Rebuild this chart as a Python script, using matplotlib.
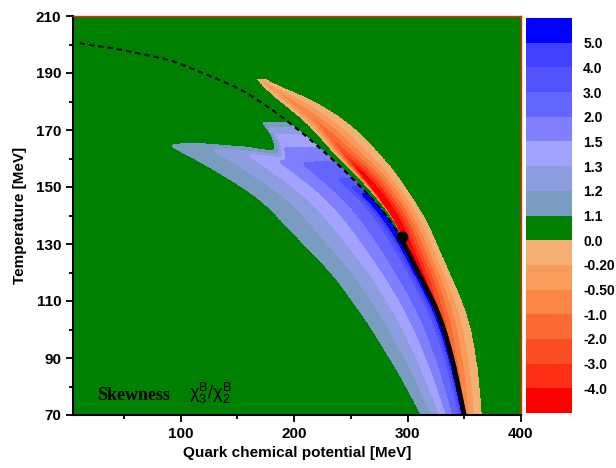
import numpy as np
import matplotlib
matplotlib.use("Agg")
import matplotlib.pyplot as plt

plt.rcParams['font.family'] = ['Liberation Sans', 'DejaVu Sans']
plt.rcParams['mathtext.fontset'] = 'custom'
plt.rcParams['mathtext.rm'] = 'Liberation Sans'
plt.rcParams['mathtext.it'] = 'Liberation Sans:italic'

# phase line (crossover up to the CEP, then first order)
line_mu = [11, 42, 92, 152, 181, 211, 240, 269, 281, 295, 308, 328, 343, 350]
line_T = [200.4, 198.6, 194.5, 184.6, 177.1, 167.8, 157.5, 146, 140.3, 132.4, 120.7, 106.6, 86.6, 70]
cep_mu, cep_T = 295, 132.4

# positive (blue) region: outer edge, and where each level sits as a fraction of the width
blue_out_mu = [312, 293, 264, 234, 207, 170, 126, 88, 72]
blue_out_T = [70, 84.3, 103, 119.5, 130.5, 146, 157, 164.9, 168]
blue_frac = [1.0, 0.76, 0.57, 0.41, 0.26, 0.12, 0.08, 0.05]
# top edge of the two blue lobes vs distance from the line
top_u = [0, 18, 22, 28, 35, 43, 52, 67, 100, 140]
top_T = [195, 185, 173, 169, 165.5, 162.5, 163.2, 164.2, 165.3, 165.6]
# cut-off of the blue next to the line above the CEP
cap_T = [145, 147.6, 152, 156, 160, 165, 169, 171, 172.5, 180]
cap_r = [0, 0.05, 0.1, 0.17, 0.3, 0.45, 0.56, 0.75, 1.0, 2.0]

# negative (red) band: inner and outer edges, depth (in level steps) and ridge position
red_in_mu = [350, 343, 328, 308, 295, 284, 263.6, 234.2, 210.7, 181.3, 163.2]
red_in_T = [70, 86.6, 106.6, 120.7, 132.4, 140, 150, 161.7, 172.3, 181.6, 188.1]
red_out_mu = [366, 363, 357, 349, 337, 316.5, 289, 254.8, 210.7, 163.2]
red_out_T = [70, 85, 100, 110, 120.7, 139.4, 156, 171.1, 182.8, 188.1]
red_depth_T = [70, 90, 110, 117, 132, 145, 155, 160, 165, 172, 182, 188.1]
red_depth = [3, 3.8, 5.5, 7.5, 8.5, 8.5, 7.5, 5.5, 4.4, 3.4, 2.3, 1.2]
ridge_T = [70, 132.4, 150, 172, 188.1]
ridge_s = [0, 0, 0.15, 0.3, 0.4]

levels = [-4.0, -3.0, -2.0, -1.0, -0.5, -0.2, 0.0, 1.1, 1.2, 1.3, 1.5, 2.0, 3.0, 4.0, 5.0]
tick_labels = ['-4.0', '-3.0', '-2.0', '-1.0', '-0.50', '-0.20', '0.0',
               '1.1', '1.2', '1.3', '1.5', '2.0', '3.0', '4.0', '5.0']
colors = ['#ff0000', '#fd2e16', '#fc4c24', '#fb6a34', '#fa8544', '#f89c5c', '#f4b074',
          '#008000', '#7a9cc0', '#8d9ee0', '#a3a3ff', '#7f7fff', '#6464ff', '#5252ff',
          '#4040ff', '#0000ff']


def smooth(y, n):
    # gaussian moving average, rounds off the corners of the read-off polylines
    k = np.exp(-0.5 * (np.arange(-3 * n, 3 * n + 1) / n) ** 2)
    k /= k.sum()
    yp = np.pad(y, 3 * n, mode='reflect', reflect_type='odd')
    return np.convolve(yp, k, mode='valid')


# phase line as T(mu), smoothed, then inverted to mu(T)
mg = np.linspace(11, 350, 3000)
T_line = smooth(np.interp(mg, line_mu, line_T), 70)

# build the field on a grid
mu = np.linspace(5, 400, 1200)
T = np.linspace(70, 210, 900)
M, TT = np.meshgrid(mu, T)

mu_line = np.interp(T, T_line[::-1], mg[::-1])[:, None]
u = mu_line - M
out_1d = smooth(np.interp(T, blue_out_T, blue_out_mu), 20)
W = np.maximum(mu_line - out_1d[:, None], 1)
r = np.clip(u / W, 0, None)
ug = np.linspace(-60, 420, 2400)
top_1d = smooth(np.interp(ug, top_u, top_T), 15)
r_t = np.clip(1 - (np.interp(u, ug, top_1d) - TT) / 6.0, 0, None)
r_c = smooth(np.interp(T, cap_T, cap_r), 8)[:, None]
r_eff = (r**10 + r_t**10 + r_c**10) ** 0.1
fr = [0] + blue_frac[::-1] + [1.05]
blue_vals = [6] + levels[7:][::-1] + [0.5]
blue = np.interp(r_eff, fr, blue_vals)

mu_in = smooth(np.interp(T, red_in_T, red_in_mu), 18)[:, None]
mu_in = np.maximum(mu_in, mu_line)
mu_out = smooth(np.interp(T, red_out_T, red_out_mu), 24)[:, None]
s = (M - mu_in) / np.maximum(mu_out - mu_in, 0.01)
s0 = smooth(np.interp(T, ridge_T, ridge_s), 14)[:, None]
depth = smooth(np.interp(T, red_depth_T, red_depth), 14)[:, None]
inside = (s > 0) & (s < 1) & (TT < 188.1)
q = np.where(s < s0, s / np.maximum(s0, 1e-6), np.clip((1 - s) / (1 - s0), 0, None) ** 1.3)
red_vals = levels[:7][::-1] + [-5.0]
red = np.interp(depth * q, np.arange(8), red_vals)

Z = np.full(M.shape, 0.5)
Z[u > 0] = blue[u > 0]
Z[inside] = red[inside]

fig = plt.figure(figsize=(6.16, 4.68), dpi=100)
ax = fig.add_axes([73 / 616, 53 / 468, 448 / 616, 399 / 468])
cs = ax.contourf(M, TT, Z, levels=[-6] + levels + [7], colors=colors)

upper = T_line >= cep_T
lower = T_line <= cep_T
ax.plot(mg[upper], T_line[upper], color='k', ls='--', lw=1.5, dashes=(2.5, 2))
ax.plot(mg[lower], T_line[lower], color='k', lw=3.3, solid_capstyle='butt')
ax.plot(cep_mu, cep_T, 'o', color='k', ms=7.5)

ax.text(26, 77, 'Skewness', family='Liberation Serif', fontweight='bold',
        fontsize=13, va='center')
ax.text(107, 77.5, r'$\mathrm{\chi_3^B/\chi_2^B}$', fontsize=13, va='center')

ax.set_xlim(5, 400)
ax.set_ylim(70, 210)
ax.set_xticks([100, 200, 300, 400])
ax.set_xticks([50, 150, 250, 350], minor=True)
ax.set_yticks(np.arange(70, 211, 20))
ax.set_yticks(np.arange(80, 210, 20), minor=True)
ax.tick_params(which='major', direction='out', length=5, width=1.3, labelsize=11)
ax.tick_params(which='minor', direction='out', length=3, width=1.3)
for lab in ax.get_xticklabels() + ax.get_yticklabels():
    lab.set_fontweight('bold')
ax.set_xlabel('Quark chemical potential [MeV]', fontsize=11, fontweight='bold', labelpad=4)
ax.set_ylabel('Temperature [MeV]', fontsize=11, fontweight='bold', labelpad=6)
for side in ['left', 'bottom']:
    ax.spines[side].set_linewidth(1.5)
for side in ['top', 'right']:
    ax.spines[side].set_color('#ff2000')
    ax.spines[side].set_linewidth(1.0)

cax = fig.add_axes([526 / 616, 55 / 468, 46 / 616, 395 / 468])
cb = fig.colorbar(cs, cax=cax, ticks=levels)
cb.set_ticklabels(tick_labels)
cb.outline.set_visible(False)
cax.tick_params(length=0, pad=8, labelsize=10)
for lab in cax.get_yticklabels():
    lab.set_fontweight('bold')

fig.savefig('out.png', dpi=100)
